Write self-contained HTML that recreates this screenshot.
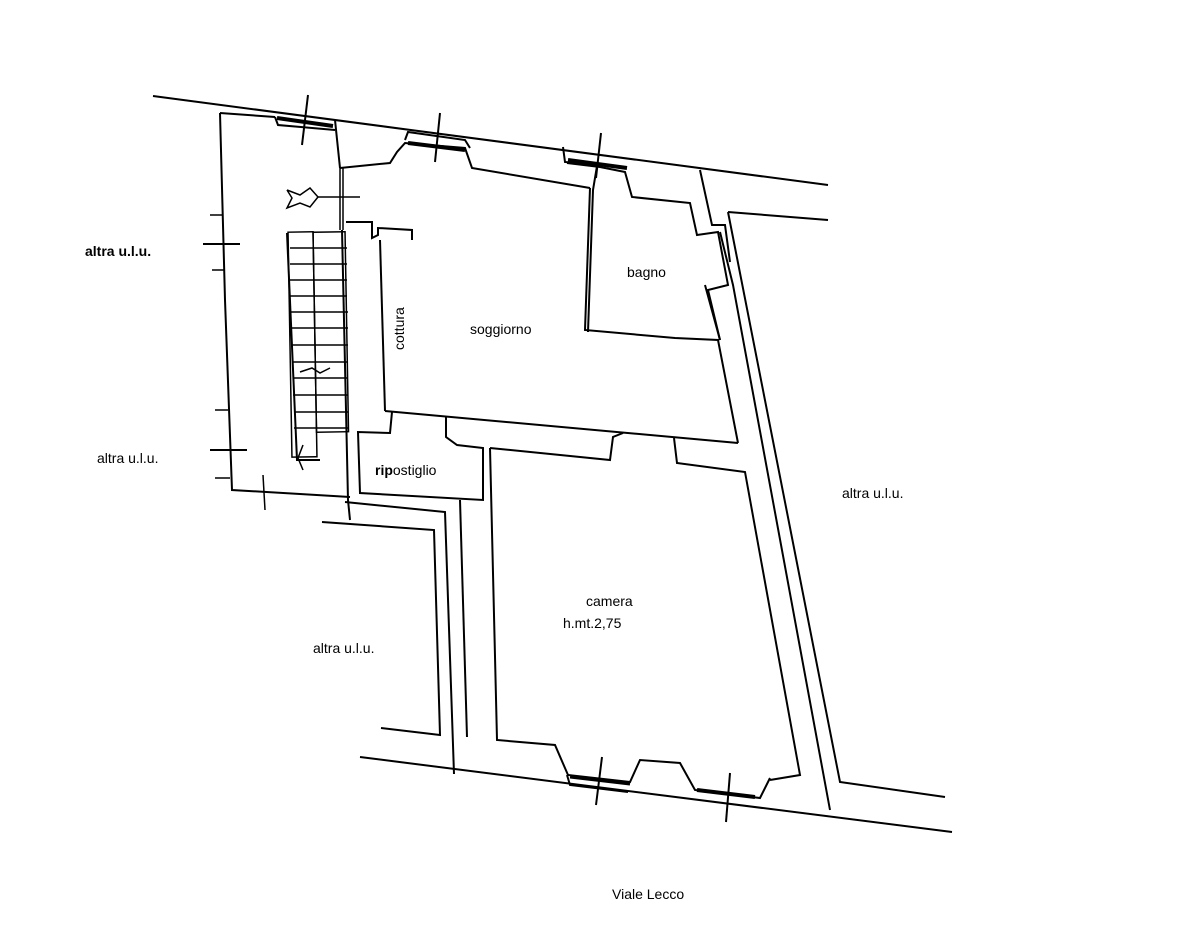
<!DOCTYPE html>
<html><head><meta charset="utf-8"><style>
html,body{margin:0;padding:0;background:#fff}
svg{display:block}
text{font-family:"Liberation Sans",sans-serif;font-size:14px;fill:#000}
</style></head><body>
<svg width="1200" height="930" viewBox="0 0 1200 930" xmlns="http://www.w3.org/2000/svg">
<g fill="none" stroke="#000" stroke-width="2" stroke-linejoin="miter">
<polyline points="153,96 828,185"/>
<polyline points="360,757 952,832"/>
<polyline points="220,113 275,117"/>
<polyline points="275,117 278,125 335,130"/>
<polyline points="335,120 340,168"/>
<polyline points="220,113 225,300 232,490 350,497"/>
<polyline points="340,168 340,230" stroke-width="1.5"/>
<polyline points="343,168 343,230" stroke-width="1.5"/>
<polyline points="342,230 348,500 350,520"/>
<polyline points="277,118 333,126" stroke-width="4"/>
<line x1="308" y1="95" x2="302" y2="145"/>
<polyline points="340,168 390,163 397,152 405,143 465,148 472,168 590,188"/>
<polyline points="405,140 408,132 465,140 470,148"/>
<polyline points="408,143 465,150" stroke-width="4"/>
<line x1="440" y1="113" x2="435" y2="162"/>
<polyline points="590,188 585,330 675,338 718,340 738,443"/>
<polyline points="385,411 738,443"/>
<polyline points="380,240 385,411"/>
<polyline points="346,222 372,222 372,238 378,235 378,228 412,230 412,240"/>
<polyline points="563,147 565,162 597,165"/>
<polyline points="567,163 600,167 625,172 632,197 690,203 697,235 718,232 728,285 708,290 720,340"/>
<polyline points="597,166 593,190 588,332"/>
<line x1="601" y1="133" x2="596" y2="178"/>
<polyline points="568,160 627,168" stroke-width="4"/>
<polyline points="700,170 712,225 725,225 730,262"/>
<polyline points="728,212 828,220"/>
<polyline points="728,212 840,782 945,797"/>
<polyline points="720,232 733,285 830,810"/>
<polyline points="705,285 720,340"/>
<polyline points="392,412 390,433 358,432 360,493 483,500 483,448 457,445 446,437 446,416"/>
<polyline points="490,448 610,460 613,437 623,433"/>
<polyline points="674,438 677,463 745,472 800,775 770,780"/>
<polyline points="490,448 497,740 555,745 568,775 630,782 640,760 680,763 695,790 760,798 770,778"/>
<polyline points="567,775 570,785 628,792"/>
<polyline points="570,777 630,784" stroke-width="3"/>
<polyline points="697,790 755,797" stroke-width="4"/>
<line x1="602" y1="757" x2="596" y2="805"/>
<line x1="730" y1="773" x2="726" y2="822"/>
<polyline points="322,522 434,530 440,735 381,728"/>
<polyline points="345,502 445,512 454,774"/>
<polyline points="460,500 467,737"/>
<line x1="203" y1="244" x2="240" y2="244"/>
<line x1="210" y1="450" x2="247" y2="450"/>
<line x1="210" y1="215" x2="222" y2="215" stroke-width="1.5"/>
<line x1="212" y1="270" x2="225" y2="270" stroke-width="1.5"/>
<line x1="215" y1="410" x2="228" y2="410" stroke-width="1.5"/>
<line x1="215" y1="478" x2="230" y2="478" stroke-width="1.5"/>
<line x1="263" y1="475" x2="265" y2="510" stroke-width="1.5"/>
<polyline points="287,233 297,460 320,460"/>
<rect x="290" y="232" width="25" height="225" stroke-width="1.5" transform="rotate(-1 300 345)"/>
<rect x="315" y="232" width="32" height="200" stroke-width="1.5" transform="rotate(-1 330 345)"/>
<g stroke-width="1.5">
<line x1="290" y1="248" x2="347" y2="248"/><line x1="290" y1="264" x2="347" y2="264"/>
<line x1="290" y1="280" x2="347" y2="280"/><line x1="290" y1="296" x2="347" y2="296"/>
<line x1="291" y1="312" x2="348" y2="312"/><line x1="291" y1="328" x2="348" y2="328"/>
<line x1="292" y1="345" x2="348" y2="345"/><line x1="292" y1="362" x2="348" y2="362"/>
<line x1="293" y1="378" x2="348" y2="378"/><line x1="293" y1="395" x2="348" y2="395"/>
<line x1="294" y1="412" x2="348" y2="412"/><line x1="294" y1="428" x2="348" y2="428"/>
<polyline points="300,372 312,368 320,373 330,368"/>
<polyline points="303,445 298,458 303,470"/>
<polyline points="287,190 300,195 310,188 318,197 310,207 300,203 287,208 292,198 287,190"/>
<line x1="318" y1="197" x2="360" y2="197"/>
</g>
</g>
<text x="85" y="256" font-weight="bold">altra u.l.u.</text>
<text x="97" y="463">altra u.l.u.</text>
<text x="313" y="653">altra u.l.u.</text>
<text x="842" y="498">altra u.l.u.</text>
<text x="627" y="277">bagno</text>
<text x="470" y="334">soggiorno</text>
<text x="375" y="475"><tspan font-weight="bold">rip</tspan>ostiglio</text>
<text x="586" y="606">camera</text>
<text x="563" y="628">h.mt.2,75</text>
<text x="612" y="899">Viale Lecco</text>
<text transform="translate(404,350) rotate(-90)">cottura</text>
</svg>
</body></html>
